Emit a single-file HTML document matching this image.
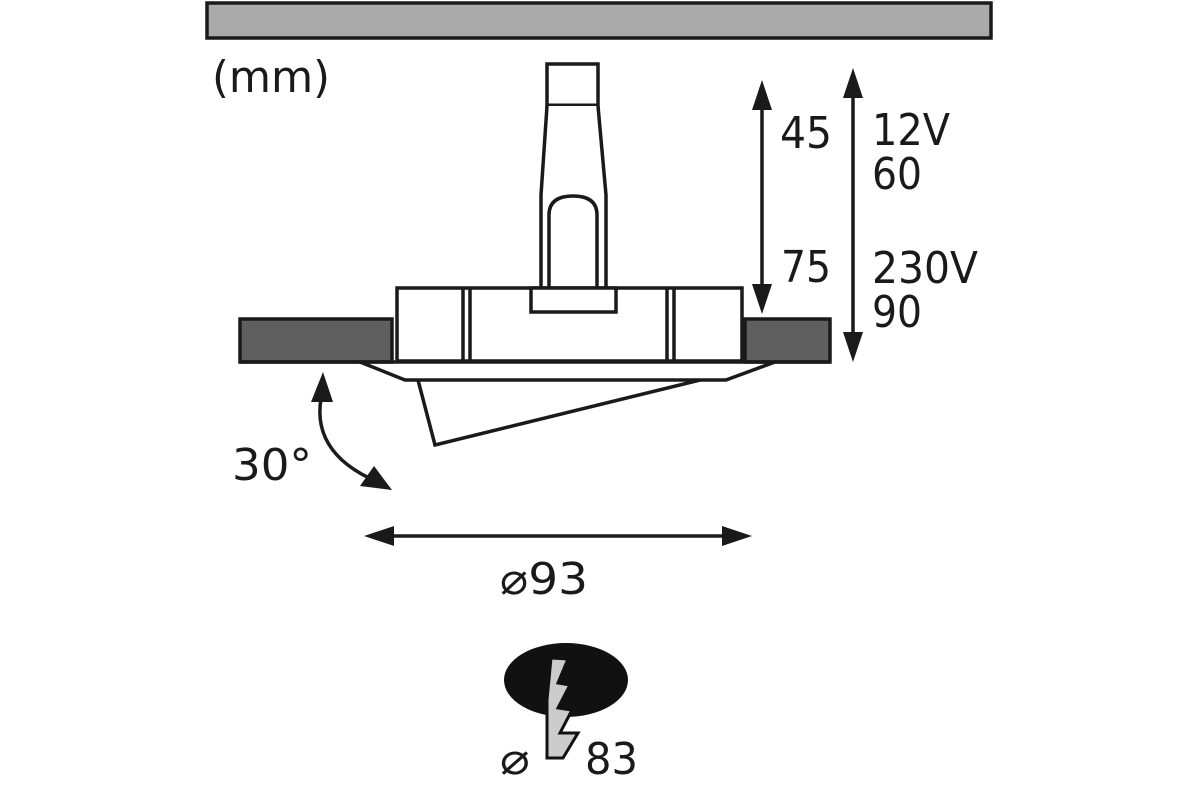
<!DOCTYPE html>
<html><head><meta charset="utf-8"><style>
html,body{margin:0;padding:0;background:#fff;}
svg{display:block}
text{font-family:"DejaVu Sans","Liberation Sans",sans-serif;fill:#1a1a1a}
</style></head><body>
<svg width="1200" height="800" viewBox="0 0 1200 800" xmlns="http://www.w3.org/2000/svg">
<g stroke="#1a1a1a" stroke-width="3.5" fill="none">
<rect x="207" y="3" width="784" height="35" fill="#aaa"/>
<!-- stem -->
<rect x="547" y="64" width="51" height="42" fill="#fff"/>
<line x1="547" y1="106" x2="598" y2="106" stroke-width="5"/>
<path d="M547,106 L541,195 L541,290 L606,290 L606,195 L598,106" fill="#fff"/>
<path d="M549,290 L549,215 Q549,196 573,196 Q597,196 597,215 L597,290"/>
<!-- flanges -->
<rect x="240" y="319" width="152" height="43" fill="#5f5f5f"/>
<rect x="745" y="319" width="85" height="43" fill="#5f5f5f"/>
<!-- housing -->
<rect x="397" y="288" width="345" height="73" fill="#fff"/>
<rect x="531" y="288" width="85" height="24" fill="#fff"/>
<line x1="463" y1="288" x2="463" y2="361"/><line x1="470" y1="288" x2="470" y2="361"/>
<line x1="667" y1="288" x2="667" y2="361"/><line x1="674" y1="288" x2="674" y2="361"/>
<line x1="240" y1="362" x2="830" y2="362"/>
<!-- lower -->
<path d="M360,362 L405,380 L726,380 L775,362"/>
<path d="M418,380 L435,445 L700,380"/>
<!-- dims -->
<line x1="762" y1="96" x2="762" y2="300"/>
<line x1="853" y1="84" x2="853" y2="348"/>
<line x1="380" y1="536" x2="736" y2="536"/>
<path d="M323,390 C312,430 330,462 378,482"/>
</g>
<path d="M762,80 l-10,30 h20z M762,314 l-10,-30 h20z M853,68 l-10,30 h20z M853,362 l-10,-30 h20z M364,536 l30,-10 v20z M752,536 l-30,-10 v20z M323,372 l-12,30 h22z M392,490 l-32,-4 l14,-20z" fill="#1a1a1a"/>
<!-- icon -->
<ellipse cx="566" cy="680" rx="62" ry="37" fill="#111"/>
<polygon points="551,658 568,659 558,683 570,685 558,708 572,710 560,733 578,733 563,758 547,758 547,700" fill="#ccc" stroke="#111" stroke-width="3"/>
<text x="212" y="92" font-size="44" textLength="118" lengthAdjust="spacingAndGlyphs">(mm)</text>
<text x="780" y="148" font-size="44" textLength="52" lengthAdjust="spacingAndGlyphs">45</text>
<text x="781" y="282" font-size="44" textLength="50" lengthAdjust="spacingAndGlyphs">75</text>
<text x="872" y="145" font-size="44" textLength="78" lengthAdjust="spacingAndGlyphs">12V</text>
<text x="872" y="189" font-size="44" textLength="50" lengthAdjust="spacingAndGlyphs">60</text>
<text x="872" y="283" font-size="44" textLength="106" lengthAdjust="spacingAndGlyphs">230V</text>
<text x="872" y="327" font-size="44" textLength="50" lengthAdjust="spacingAndGlyphs">90</text>
<text x="232" y="480" font-size="44" textLength="80" lengthAdjust="spacingAndGlyphs">30°</text>
<text x="500" y="594" font-size="44" textLength="88" lengthAdjust="spacingAndGlyphs">⌀93</text>
<text x="500" y="774" font-size="44" textLength="30" lengthAdjust="spacingAndGlyphs">⌀</text>
<text x="585" y="774" font-size="44" textLength="53" lengthAdjust="spacingAndGlyphs">83</text>
</svg>
</body></html>
